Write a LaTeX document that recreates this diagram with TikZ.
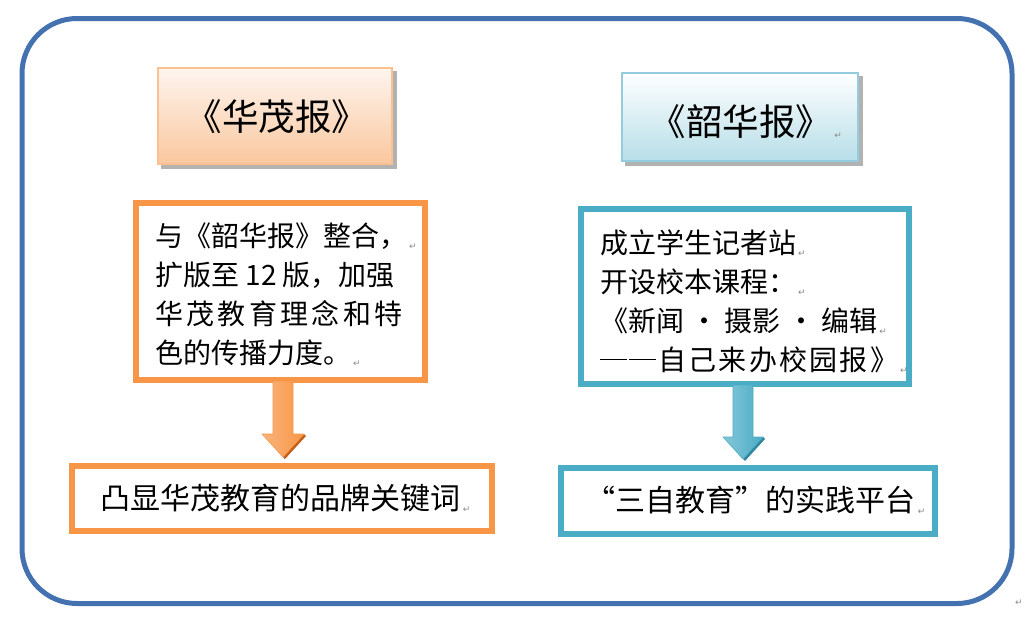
\documentclass[tikz,border=0pt]{standalone}
\usepackage{fontspec}
\newfontfamily\cjk{Noto Sans CJK SC}
\newfontfamily\cjkwide[LetterSpace=12]{Noto Sans CJK SC}
\newfontfamily\cjkwider[LetterSpace=8]{Noto Sans CJK SC}
\newfontfamily\symf{DejaVu Sans}
\usetikzlibrary{calc,shadings}
\definecolor{orb}{HTML}{F79646}
\definecolor{orbdark}{HTML}{C0601A}
\definecolor{orblight}{HTML}{F9B47C}
\definecolor{blb}{HTML}{4BACC6}
\definecolor{blbdark}{HTML}{31859C}
\definecolor{blblight}{HTML}{86C7D8}
\definecolor{outerc}{RGB}{68,114,176}
\definecolor{tob}{HTML}{FAC090}
\definecolor{tot}{HTML}{FEF5EF}
\definecolor{tobot}{HTML}{FAC79E}
\definecolor{tbb}{HTML}{93CDDD}
\definecolor{tbbot}{HTML}{B7DEE8}
\definecolor{markc}{HTML}{8A8A8A}
\newcommand\retmark{\rlap{\hspace{2pt}\raisebox{-3pt}{\symf\fontsize{9}{9}\selectfont\color{markc}↵}}}
\newcommand\dbldash{\raisebox{0.36em}{\rule{0.95em}{1pt}}\hspace{0.08em}\raisebox{0.36em}{\rule{0.95em}{1pt}}\hspace{0.1em}}
\begin{document}
\begin{tikzpicture}[x=1pt,y=-1pt,
  outerbox/.style={draw=outerc,line width=5pt,rounded corners=55pt},
  titlebox/.style={rectangle,line width=1.5pt,inner sep=0pt,shading=axis},
  titletext/.style={font=\cjk\fontsize{36.5}{40}\selectfont,inner sep=0pt},
  obox/.style={rectangle,draw=orb,line width=6pt,fill=white,inner sep=0pt},
  bbox/.style={rectangle,draw=blb,line width=6pt,fill=white,inner sep=0pt},
  body/.style={font=\cjk\fontsize{28}{39}\selectfont,align=left,inner sep=0pt},
  bigbody/.style={font=\cjk\fontsize{30}{39}\selectfont,inner sep=0pt},
  tshadow/.style={fill=black!30},
  oarrow/.style={shading=axis,left color=orblight,right color=orb,shading angle=90,draw=orb,line width=0.6pt},
  barrow/.style={shading=axis,left color=blblight,right color=blb,shading angle=90,draw=blb,line width=0.6pt}
]
\useasboundingbox (0,0) rectangle (1035,621);
\draw[outerbox] (22,18.5) rectangle (1012,603.5);
\node[font=\symf\fontsize{9}{9}\selectfont,text=markc] (endmark) at (1019,603) {↵};

% title boxes
\fill[tshadow] (161,71) rectangle (397,169);
\node[titlebox,draw=tob,top color=tot,bottom color=tobot,minimum width=234pt,minimum height=96pt] (hm) at (275,116) {};
\node[titletext] (hmt) at ($(hm.center)+(2,1)$) {《华茂报》};
\fill[tshadow] (625,76) rectangle (863,166);
\node[titlebox,draw=tbb,top color=white,bottom color=tbbot,minimum width=236pt,minimum height=88pt] (sh) at (740,117) {};
\node[titletext] (sht) at ($(sh.center)+(1,5)$) {《韶华报》\retmark};

% middle boxes
\node[obox,minimum width=289pt,minimum height=177pt] (ml) at (280.5,291.5) {};
\node[body,anchor=west] (mlt) at ($(ml.west)+(22,3.5)$) {与《韶华报》整合，\retmark\\扩版至 12 版，加强\\{\cjkwide 华茂教育理念和特}\\色的传播力度。\retmark};
\node[bbox,minimum width=328pt,minimum height=175pt] (mr) at (745,296.5) {};
\node[body,anchor=west] (mrt) at ($(mr.west)+(22,5)$) {成立学生记者站\retmark\\开设校本课程：\retmark\\《新闻 · 摄影 · 编辑\retmark\\\dbldash{\cjkwider 自己来办校园报》}\retmark};

% bottom boxes
\node[obox,minimum width=420pt,minimum height=65pt] (bl) at (281.75,498.5) {};
\node[bigbody] (blt) at ($(bl.center)+(-1,0)$) {凸显华茂教育的品牌关键词\retmark};
\node[bbox,minimum width=374.5pt,minimum height=65.5pt] (br) at (747.75,500.75) {};
\node[bigbody] (brt) at ($(br.center)+(3,0)$) {“三自教育”的实践平台\retmark};

% arrows
\coordinate (a1s) at ($(ml.south)+(2.5,-2)$);
\coordinate (a1e) at ($(a1s |- bl.north)+(0,-6)$);
\fill[orbdark] ($(a1e)+(2,2)$) -- ($(a1e)+(23,-21)$) -- ($(a1e)+(21,-23)$) -- (a1e) -- cycle;
\path[oarrow] ($(a1s)+(-10,0)$) -- ($(a1s)+(10,0)$) -- ($(a1e)+(10,-23)$) -- ($(a1e)+(21,-23)$) -- (a1e) -- ($(a1e)+(-21,-23)$) -- ($(a1e)+(-10,-23)$) -- cycle;
\coordinate (a2s) at ($(mr.south)+(-2,-2)$);
\coordinate (a2e) at ($(a2s |- br.north)+(0,-6)$);
\fill[blbdark] ($(a2e)+(2,2)$) -- ($(a2e)+(22,-20)$) -- ($(a2e)+(20,-22)$) -- (a2e) -- cycle;
\path[barrow] ($(a2s)+(-10,0)$) -- ($(a2s)+(10,0)$) -- ($(a2e)+(10,-22)$) -- ($(a2e)+(20,-22)$) -- (a2e) -- ($(a2e)+(-20,-22)$) -- ($(a2e)+(-10,-22)$) -- cycle;
\end{tikzpicture}
\end{document}
